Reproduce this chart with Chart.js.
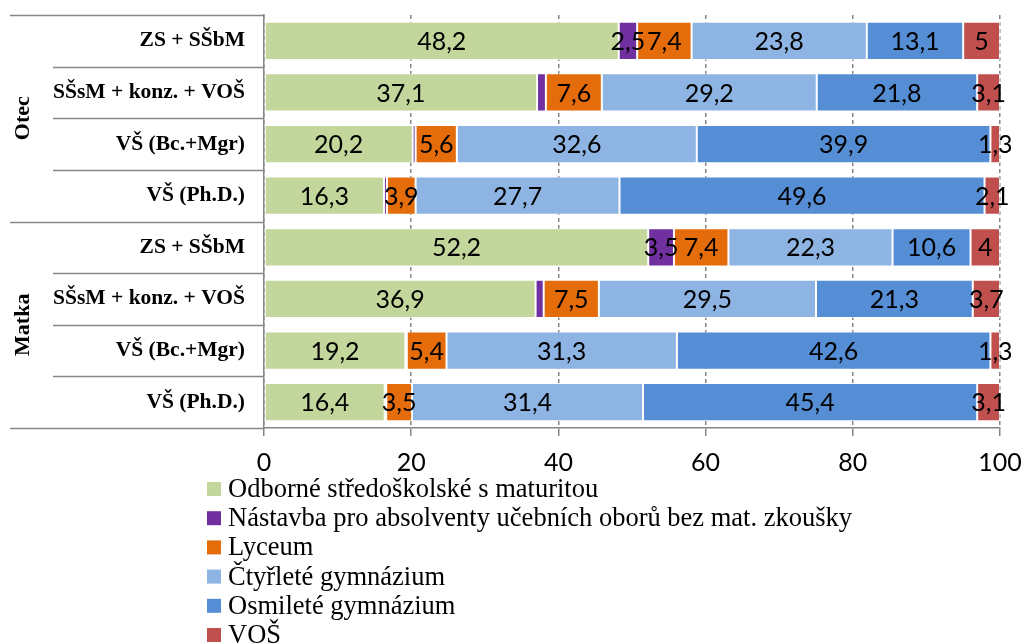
<!DOCTYPE html>
<html lang="cs">
<head>
    <meta charset="UTF-8">
    <title>Vzdělání rodičů podle typu školy</title>
    <script src="https://cdn.jsdelivr.net/npm/chart.js@4.4.0/dist/chart.umd.min.js"></script>
    <style>
        body {
            margin: 0;
            background-color: #ffffff;
        }

        .chart-container {
            width: 1023px;
            height: 643px;
        }
    </style>
</head>
<body>
    <div class="chart-container">
        <canvas id="myChart"></canvas>
    </div>

    <script>
        const categories = ['ZS + SŠbM', 'SŠsM + konz. + VOŠ', 'VŠ (Bc.+Mgr)', 'VŠ (Ph.D.)',
            'ZS + SŠbM', 'SŠsM + konz. + VOŠ', 'VŠ (Bc.+Mgr)', 'VŠ (Ph.D.)'];
        const groups = ['Otec', 'Matka'];
        const seriesNames = ['Odborné středoškolské s maturitou',
            'Nástavba pro absolventy učebních oborů bez mat. zkoušky',
            'Lyceum', 'Čtyřleté gymnázium', 'Osmileté gymnázium', 'VOŠ'];
        const seriesColors = ['#C3D69B', '#7030A0', '#E46C0A', '#8EB4E3', '#558ED5', '#C0504D'];

        const odborne = [48.2, 37.1, 20.2, 16.3, 52.2, 36.9, 19.2, 16.4];
        const nastavba = [2.5, 1.2, 0.4, 0.4, 3.5, 1.1, 0.2, 0.2];
        const lyceum = [7.4, 7.6, 5.6, 3.9, 7.4, 7.5, 5.4, 3.5];
        const ctyrlete = [23.8, 29.2, 32.6, 27.7, 22.3, 29.5, 31.3, 31.4];
        const osmilete = [13.1, 21.8, 39.9, 49.6, 10.6, 21.3, 42.6, 45.4];
        const vos = [5, 3.1, 1.3, 2.1, 4, 3.7, 1.3, 3.1];

        const xTicks = [0, 20, 40, 60, 80, 100];

        const series = [odborne, nastavba, lyceum, ctyrlete, osmilete, vos];
        const axisGray = '#868686';

        // popisky hodnot uprostřed segmentů
        const valueLabels = {
            id: 'valueLabels',
            afterDatasetsDraw(chart) {
                const ctx = chart.ctx;
                ctx.save();
                ctx.font = '25px Lato';
                ctx.fillStyle = '#000';
                ctx.textAlign = 'center';
                ctx.textBaseline = 'middle';
                chart.data.datasets.forEach((ds, i) => {
                    chart.getDatasetMeta(i).data.forEach((bar, j) => {
                        const v = ds.data[j];
                        if (v < ds.minLabel) return;
                        const p = bar.getProps(['x', 'base', 'y'], true);
                        ctx.fillText(String(v).replace('.', ','), (p.x + p.base) / 2, p.y + 1);
                    });
                });
                ctx.restore();
            }
        };

        // dělicí čáry kategorií, skupiny Otec / Matka a legenda
        const sideAndLegend = {
            id: 'sideAndLegend',
            afterDraw(chart) {
                const ctx = chart.ctx;
                const area = chart.chartArea;
                const n = categories.length;
                const step = (area.bottom - area.top) / n;
                ctx.save();
                ctx.strokeStyle = axisGray;
                ctx.lineWidth = 1.5;
                for (let k = 0; k <= n; k++) {
                    const y = Math.round(area.top + step * k) + 0.5;
                    const x0 = (k % 4 === 0) ? 10 : 53;
                    ctx.beginPath();
                    ctx.moveTo(x0, y);
                    ctx.lineTo(area.left, y);
                    ctx.stroke();
                }

                ctx.fillStyle = '#000';
                ctx.font = 'bold 22px "Liberation Serif"';
                ctx.textAlign = 'center';
                ctx.textBaseline = 'middle';
                groups.forEach((g, i) => {
                    const yc = area.top + step * (i * 4 + 2);
                    ctx.save();
                    ctx.translate(23, yc);
                    ctx.rotate(-Math.PI / 2);
                    ctx.fillText(g, 0, 0);
                    ctx.restore();
                });

                ctx.font = '26.5px "Liberation Serif"';
                ctx.textAlign = 'left';
                chart.data.datasets.forEach((ds, i) => {
                    const yc = 489 + i * 29.2;
                    ctx.fillStyle = ds.backgroundColor;
                    ctx.fillRect(207, yc - 7, 14, 14);
                    ctx.fillStyle = '#000';
                    ctx.fillText(ds.label, 228, yc + 1);
                });
                ctx.restore();
            }
        };

        const data = {
            labels: categories,
            datasets: series.map((vals, i) => ({
                label: seriesNames[i],
                data: vals,
                backgroundColor: seriesColors[i],
                borderColor: 'rgba(255, 255, 255, 0.6)',
                borderWidth: 1,
                borderSkipped: false,
                minLabel: i === 1 ? 2 : 0.5,
                barPercentage: 0.74,
                categoryPercentage: 1
            }))
        };

        const config = {
            type: 'bar',
            data,
            options: {
                indexAxis: 'y',
                responsive: true,
                maintainAspectRatio: false,
                animation: false,
                layout: {
                    padding: { top: 15, right: 23, left: 0, bottom: 0 }
                },
                scales: {
                    x: {
                        stacked: true,
                        min: 0,
                        max: 100,
                        afterBuildTicks: axis => {
                            axis.ticks = xTicks.map(v => ({ value: v }));
                        },
                        afterFit: scale => {
                            scale.height = 215;
                            scale.paddingLeft = 0;
                            scale.paddingRight = 0;
                        },
                        grid: {
                            color: axisGray,
                            lineWidth: 1.5,
                            tickColor: axisGray,
                            tickLength: 8,
                            tickWidth: 1.5,
                            tickBorderDash: []
                        },
                        border: {
                            display: true,
                            color: axisGray,
                            width: 1.5,
                            dash: [4, 3]
                        },
                        ticks: {
                            color: '#000',
                            padding: 12,
                            font: { family: 'Lato', size: 25 }
                        }
                    },
                    y: {
                        stacked: true,
                        afterFit: scale => {
                            scale.width = 264;
                            scale.paddingTop = 0;
                            scale.paddingBottom = 0;
                        },
                        grid: {
                            display: false
                        },
                        border: {
                            display: true,
                            color: axisGray,
                            width: 1.5
                        },
                        ticks: {
                            color: '#000',
                            padding: 11,
                            font: { family: 'Liberation Serif', size: 21.5, weight: 'bold' }
                        }
                    }
                },
                plugins: {
                    legend: { display: false },
                    tooltip: { enabled: false }
                }
            },
            plugins: [valueLabels, sideAndLegend]
        };

        const ctx = document.getElementById('myChart').getContext('2d');
        const myChart = new Chart(ctx, config);
    </script>
</body>
</html>
